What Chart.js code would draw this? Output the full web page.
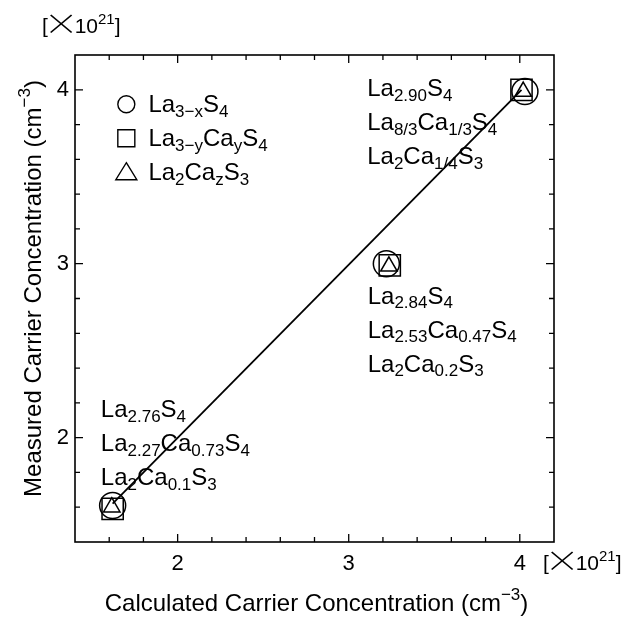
<!DOCTYPE html>
<html>
<head>
<meta charset="utf-8">
<script src="https://cdn.jsdelivr.net/npm/chart.js@4/dist/chart.umd.min.js"></script>
<style>
  html, body { margin: 0; padding: 0; background: #fff; }
  canvas { display: block; }
</style>
</head>
<body>
<canvas id="chart" width="635" height="620"></canvas>
<script>
// Measured vs. calculated carrier concentration, both in units of 1e21 cm^-3.

// Legend entries (sample families)
const seriesNames = ['La_{3\u2212x}S_{4}', 'La_{3\u2212y}Ca_{y}S_{4}', 'La_{2}Ca_{z}S_{3}'];

// La(3-x)S4 : circles
const circleCalc = [1.62, 3.22, 4.03];
const circleMeas = [1.61, 3.00, 3.99];
// La(3-y)Ca(y)S4 : squares
const squareCalc = [1.62, 3.24, 4.01];
const squareMeas = [1.59, 2.99, 4.00];
// La2Ca(z)S3 : triangles
const triangleCalc = [1.615, 3.235, 4.02];
const triangleMeas = [1.60, 2.985, 3.99];

// Straight line through the data (calculated = measured)
const fitCalc = [1.62, 4.01];
const fitMeas = [1.62, 4.00];

// Labelled tick values
const majorTicks = [2, 3, 4];

// Compositions written next to each group of points
const lowLabels  = ['La_{2.76}S_{4}', 'La_{2.27}Ca_{0.73}S_{4}', 'La_{2}Ca_{0.1}S_{3}'];
const midLabels  = ['La_{2.84}S_{4}', 'La_{2.53}Ca_{0.47}S_{4}', 'La_{2}Ca_{0.2}S_{3}'];
const highLabels = ['La_{2.90}S_{4}', 'La_{8/3}Ca_{1/3}S_{4}', 'La_{2}Ca_{1/4}S_{3}'];

const xTitle = 'Calculated Carrier Concentration (cm^{\u22123})';
const yTitle = 'Measured Carrier Concentration (cm^{\u22123})';
const unitText = '[~{\u00D7}10^{21}]';

// ---------------------------------------------------------------------------
const FONT = "'Liberation Sans', Arial, Helvetica, sans-serif";
const THIN_FONT = "'Noto Sans CJK JP', 'Noto Sans', 'Liberation Sans', sans-serif";
const INK = '#000';

// where the composition blocks sit (data coordinates of first baseline)
const textBlocks = [
  { lines: lowLabels,  x: 1.551, y: 2.117 },
  { lines: midLabels,  x: 3.111, y: 2.769 },
  { lines: highLabels, x: 3.108, y: 3.962 }
];
const LINE_STEP = 34;
const TEXT_SIZE = 24;
const legendPos = { symX: 1.70, textX: 1.829, firstBase: 3.871 };

function toPoints(xs, ys) { return xs.map((x, i) => ({ x: x, y: ys[i] })); }

// text with _{sub}, ^{sup} and ~{large thin glyph} markup
function richParts(str) {
  const out = [];
  const re = /([_^~])\{([^}]*)\}|([^_^~]+)/g;
  let m;
  while ((m = re.exec(str))) {
    if (m[3]) out.push({ t: m[3], k: 'n' });
    else out.push({ t: m[2], k: m[1] === '_' ? 'sub' : m[1] === '^' ? 'sup' : 'big' });
  }
  return out;
}

function drawRich(ctx, str, x, y, size, align) {
  const parts = richParts(str);
  const small = Math.round(size * 0.7);
  const BIG_STRETCH = 1.2;
  const fontFor = k => {
    if (k === 'big') return '300 ' + Math.round(size * 1.4) + 'px ' + THIN_FONT;
    return (k === 'n' ? size : small) + 'px ' + FONT;
  };
  let w = 0;
  parts.forEach(p => {
    ctx.font = fontFor(p.k);
    const m = ctx.measureText(p.t);
    if (p.k === 'big') {
      // tight box around the glyph ink, with a little air on both sides
      p.left = m.actualBoundingBoxLeft;
      p.w = (m.actualBoundingBoxLeft + m.actualBoundingBoxRight) * BIG_STRETCH + 4;
    } else {
      p.w = m.width;
    }
    w += p.w;
  });
  let cx = align === 'center' ? x - w / 2 : align === 'right' ? x - w : x;
  ctx.textAlign = 'left';
  ctx.textBaseline = 'alphabetic';
  parts.forEach(p => {
    ctx.font = fontFor(p.k);
    if (p.k === 'big') {
      ctx.save();
      ctx.translate(cx + 2, y + size * 0.1);
      ctx.scale(BIG_STRETCH, 1);
      ctx.fillText(p.t, p.left, 0);
      ctx.restore();
    } else {
      let dy = 0;
      if (p.k === 'sub') dy = size * 0.18;
      else if (p.k === 'sup') dy = -size * 0.45;
      ctx.fillText(p.t, cx, y + dy);
    }
    cx += p.w;
  });
  return w;
}

function legendSymbol(ctx, kind, x, y) {
  ctx.beginPath();
  if (kind === 'circle') {
    ctx.arc(x, y, 8.5, 0, Math.PI * 2);
  } else if (kind === 'rect') {
    ctx.rect(x - 8.5, y - 8.5, 17, 17);
  } else {
    ctx.moveTo(x, y - 9.5);
    ctx.lineTo(x + 10.5, y + 7.5);
    ctx.lineTo(x - 10.5, y + 7.5);
    ctx.closePath();
  }
  ctx.stroke();
}

const framePlugin = {
  id: 'frameAndText',
  afterDraw(chart) {
    const ctx = chart.ctx;
    const xs = chart.scales.x, ys = chart.scales.y;
    const a = chart.chartArea;
    ctx.save();
    ctx.strokeStyle = INK;
    ctx.fillStyle = INK;

    // frame
    ctx.lineWidth = 1.6;
    ctx.strokeRect(a.left, a.top, a.right - a.left, a.bottom - a.top);

    // inward ticks on all four sides
    ctx.lineWidth = 1.3;
    ctx.beginPath();
    const isMajor = v => Math.abs(v - Math.round(v)) < 1e-6;
    xs.ticks.forEach(t => {
      const px = xs.getPixelForValue(t.value);
      if (px <= a.left + 1 || px >= a.right - 1) return;
      const len = isMajor(t.value) ? 8 : 5;
      ctx.moveTo(px, a.bottom); ctx.lineTo(px, a.bottom - len);
      ctx.moveTo(px, a.top); ctx.lineTo(px, a.top + len);
    });
    ys.ticks.forEach(t => {
      const py = ys.getPixelForValue(t.value);
      if (py <= a.top + 1 || py >= a.bottom - 1) return;
      const len = isMajor(t.value) ? 8 : 5;
      ctx.moveTo(a.left, py); ctx.lineTo(a.left + len, py);
      ctx.moveTo(a.right, py); ctx.lineTo(a.right - len, py);
    });
    ctx.stroke();

    // axis titles
    drawRich(ctx, xTitle, (a.left + a.right) / 2 + 2, 611, 24, 'center');
    ctx.save();
    ctx.translate(41, (a.top + a.bottom) / 2 - 10);
    ctx.rotate(-Math.PI / 2);
    drawRich(ctx, yTitle, 0, 0, 24, 'center');
    ctx.restore();

    // scale multipliers
    drawRich(ctx, unitText, 42, 33, 21, 'left');
    drawRich(ctx, unitText, a.right - 11, 570, 21, 'left');

    // legend
    ctx.lineWidth = 1.4;
    ['circle', 'rect', 'triangle'].forEach((kind, i) => {
      const base = ys.getPixelForValue(legendPos.firstBase) + i * LINE_STEP;
      legendSymbol(ctx, kind, xs.getPixelForValue(legendPos.symX), base - 8);
      drawRich(ctx, seriesNames[i], xs.getPixelForValue(legendPos.textX), base, TEXT_SIZE, 'left');
    });

    // composition labels
    textBlocks.forEach(b => {
      const bx = xs.getPixelForValue(b.x);
      const by = ys.getPixelForValue(b.y);
      b.lines.forEach((s, i) => drawRich(ctx, s, bx, by + i * LINE_STEP, TEXT_SIZE, 'left'));
    });
    ctx.restore();
  }
};

const markerStyle = {
  showLine: false,
  borderColor: INK,
  backgroundColor: 'rgba(0,0,0,0)',
  pointBorderWidth: 1.5,
  pointHoverRadius: 0
};

const tickFont = { family: FONT, size: 22 };
const tickLabel = v => (Math.abs(v - Math.round(v)) < 1e-6 && majorTicks.includes(Math.round(v))) ? String(Math.round(v)) : '';

new Chart(document.getElementById('chart').getContext('2d'), {
  type: 'scatter',
  data: {
    datasets: [
      Object.assign({}, markerStyle, { label: 'La3-xS4', data: toPoints(circleCalc, circleMeas), pointStyle: 'circle', pointRadius: 13 }),
      Object.assign({}, markerStyle, { label: 'La3-yCayS4', data: toPoints(squareCalc, squareMeas), pointStyle: 'rect', pointRadius: 15 }),
      Object.assign({}, markerStyle, { label: 'La2CazS3', data: toPoints(triangleCalc, triangleMeas), pointStyle: 'triangle', pointRadius: 9.5 }),
      {
        type: 'line', label: 'fit', data: toPoints(fitCalc, fitMeas),
        borderColor: INK, borderWidth: 1.8, pointRadius: 0, fill: false, tension: 0
      }
    ]
  },
  options: {
    responsive: false,
    animation: false,
    devicePixelRatio: 1,
    layout: { padding: { left: 0, top: 55, right: 81, bottom: 0 } },
    plugins: { legend: { display: false }, tooltip: { enabled: false } },
    events: [],
    scales: {
      x: {
        type: 'linear', min: 1.4, max: 4.2,
        afterFit: s => { s.height = 78; },
        grid: { display: false, drawTicks: false },
        border: { display: false },
        ticks: { stepSize: 0.2, autoSkip: false, maxRotation: 0, padding: 9, color: INK, font: tickFont, callback: tickLabel }
      },
      y: {
        type: 'linear', min: 1.4, max: 4.2,
        afterFit: s => { s.width = 75; },
        grid: { display: false, drawTicks: false },
        border: { display: false },
        ticks: { stepSize: 0.2, autoSkip: false, padding: 6, color: INK, font: tickFont, callback: tickLabel }
      }
    }
  },
  plugins: [framePlugin]
});
</script>
</body>
</html>
